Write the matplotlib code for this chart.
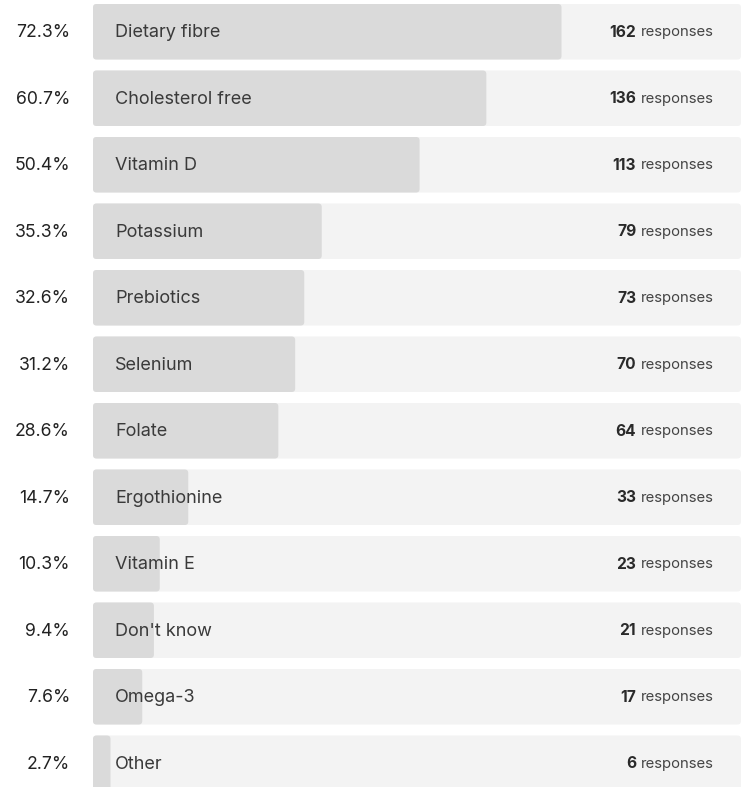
import matplotlib.pyplot as plt
from matplotlib.patches import FancyBboxPatch

categories = ["Dietary fibre", "Cholesterol free", "Vitamin D", "Potassium",
              "Prebiotics", "Selenium", "Folate", "Ergothionine", "Vitamin E",
              "Don't know", "Omega-3", "Other"]
percents = [72.3, 60.7, 50.4, 35.3, 32.6, 31.2, 28.6, 14.7, 10.3, 9.4, 7.6, 2.7]
responses = [162, 136, 113, 79, 73, 70, 64, 33, 23, 21, 17, 6]

W, H = 741, 787
BAR_LEFT = 93
PITCH = 66.5
ROW_H = 55.5
FIRST_CENTER = 4 + ROW_H / 2

plt.rcParams['font.family'] = ['Inter', 'DejaVu Sans']

fig = plt.figure(figsize=(W / 100, H / 100), dpi=100)
fig.patch.set_facecolor('white')
ax = fig.add_axes([BAR_LEFT / W, 0, (W - BAR_LEFT) / W, 1])
ax.set_xlim(0, 100)
ax.set_ylim((H - FIRST_CENTER) / PITCH, -FIRST_CENTER / PITCH)
ax.axis('off')

ys = list(range(len(categories)))
bh = ROW_H / PITCH

bg = ax.barh(ys, [100] * len(ys), height=bh, color='#f3f3f3', linewidth=0)
fg = ax.barh(ys, percents, height=bh, color='#dadada', linewidth=0)

# swap the plain rectangles for rounded ones
px_x = (W - BAR_LEFT) / 100.0
aspect = px_x / PITCH
for bars in (bg, fg):
    for r in bars:
        x, y = r.get_x(), r.get_y()
        w, h = r.get_width(), r.get_height()
        rad = min(3.5 / px_x, w / 2)
        p = FancyBboxPatch((x, y), w, h,
                           boxstyle=f"round,pad=0,rounding_size={rad}",
                           mutation_aspect=aspect,
                           facecolor=r.get_facecolor(), linewidth=0)
        r.remove()
        ax.add_patch(p)

for i, (cat, pct, n) in enumerate(zip(categories, percents, responses)):
    ax.annotate(f"{pct}%", xy=(0, i), xytext=(-23, 1), textcoords='offset pixels',
                ha='right', va='center_baseline', fontsize=12.7, color='#222222')
    ax.annotate(cat, xy=(0, i), xytext=(22, 1), textcoords='offset pixels',
                ha='left', va='center_baseline', fontsize=13, color='#3a3a3a')
    resp = ax.annotate("responses", xy=(100, i), xytext=(-27, 1),
                       textcoords='offset pixels', ha='right',
                       va='center_baseline', fontsize=10.7, color='#444444')
    ax.annotate(str(n), xy=(0, i), xycoords=(resp, ax.transData),
                xytext=(-5, 1), textcoords='offset pixels', ha='right',
                va='center_baseline', fontsize=11.2, fontweight='bold',
                color='#2a2a2a')

fig.savefig("out.png", dpi=100)
